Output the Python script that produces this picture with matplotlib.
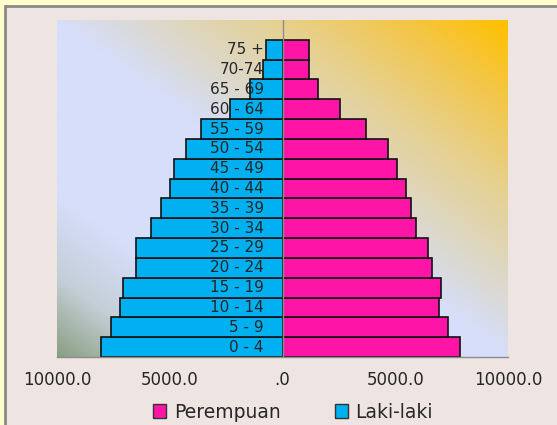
import numpy as np
import matplotlib
matplotlib.use("Agg")
import matplotlib.pyplot as plt
from matplotlib.colors import LinearSegmentedColormap, to_rgb
from matplotlib.patches import Rectangle, Patch

# age groups, bottom to top
age_groups = ["0 - 4", "5 - 9", "10 - 14", "15 - 19", "20 - 24", "25 - 29",
              "30 - 34", "35 - 39", "40 - 44", "45 - 49", "50 - 54", "55 - 59",
              "60 - 64", "65 - 69", "70-74", "75 +"]
laki_laki = [8040, 7600, 7200, 7080, 6505, 6505, 5830, 5370, 4975, 4795,
             4280, 3600, 2330, 1435, 860, 710]
perempuan = [7890, 7345, 6960, 7020, 6620, 6445, 5930, 5690, 5485, 5070,
             4675, 3715, 2565, 1590, 1195, 1195]
x_ticks = [-10000, -5000, 0, 5000, 10000]

plt.rcParams['font.family'] = ['DejaVu Sans']

fig = plt.figure(figsize=(5.57, 4.25), dpi=100, facecolor='#FFFFCC')
# chart area panel with grey frame on top/left
fig.patches.append(Rectangle((5 / 557, -0.1), 1.2, 1 - 6 / 425 + 0.1,
                             transform=fig.transFigure, facecolor='#EEE4E2',
                             edgecolor='#8A8A8A', linewidth=2, zorder=-5))

ax = fig.add_axes([57 / 557, 68 / 425, 451 / 557, 337 / 425])
ax.set_facecolor('none')

# diagonal gradient fill: gold at top-right to grey-green at bottom-left
stops = [(0.0, '#FFC000'), (0.13, '#F2C74E'), (0.26, '#E6D192'),
         (0.38, '#DDD7C4'), (0.5, '#D6DEFA'), (0.76, '#D6DEFA'),
         (0.88, '#C5CFD8'), (1.0, '#8AA082')]
cmap = LinearSegmentedColormap.from_list('fill', [(p, to_rgb(c)) for p, c in stops])
u = np.linspace(0, 1, 400)
v = np.linspace(1, 0, 300)
U, V = np.meshgrid(u, v)
T = 1 - (U + V) / 2
ax.imshow(cmap(T), extent=[-10000, 10000, -0.5, 16.5], aspect='auto',
          zorder=0, interpolation='bilinear')

y = np.arange(len(age_groups))
ax.barh(y, perempuan, height=1.0, color='#FF14A8', edgecolor='#111111',
        linewidth=1.2, label='Perempuan', zorder=2)
ax.barh(y, [-m for m in laki_laki], height=1.0, color='#00B0F0',
        edgecolor='#111111', linewidth=1.2, label='Laki-laki', zorder=2)

for i, name in enumerate(age_groups):
    ax.annotate(name, xy=(0, i), xytext=(-13.5, 0), textcoords='offset points',
                ha='right', va='center', fontsize=11, color='#262626', zorder=4)

ax.axvline(0, color='#8C8C8C', linewidth=1, zorder=3)

ax.set_xlim(-10000, 10000)
ax.set_ylim(-0.5, 16.5)
ax.set_yticks([])
ax.set_xticks(x_ticks)
ax.set_xticklabels(['.0' if t == 0 else f'{abs(t):.1f}' for t in x_ticks],
                   fontsize=12, color='#262626')
ax.tick_params(axis='x', length=0, pad=10)
for side in ['left', 'right', 'top']:
    ax.spines[side].set_visible(False)
ax.spines['bottom'].set_color('#8C8C8C')
ax.spines['bottom'].set_linewidth(1)

handles = [Patch(facecolor='#FF14A8', edgecolor='#333333', label='Perempuan'),
           Patch(facecolor='#00B0F0', edgecolor='#333333', label='Laki-laki')]
fig.legend(handles=handles, loc='center', bbox_to_anchor=(293 / 557, 1 - 412 / 425),
           ncol=2, frameon=False, fontsize=13.5, handlelength=0.7,
           handleheight=0.7, handletextpad=0.4, columnspacing=2.9,
           labelcolor='#262626')

fig.savefig('out.png', dpi=100, facecolor=fig.get_facecolor())
